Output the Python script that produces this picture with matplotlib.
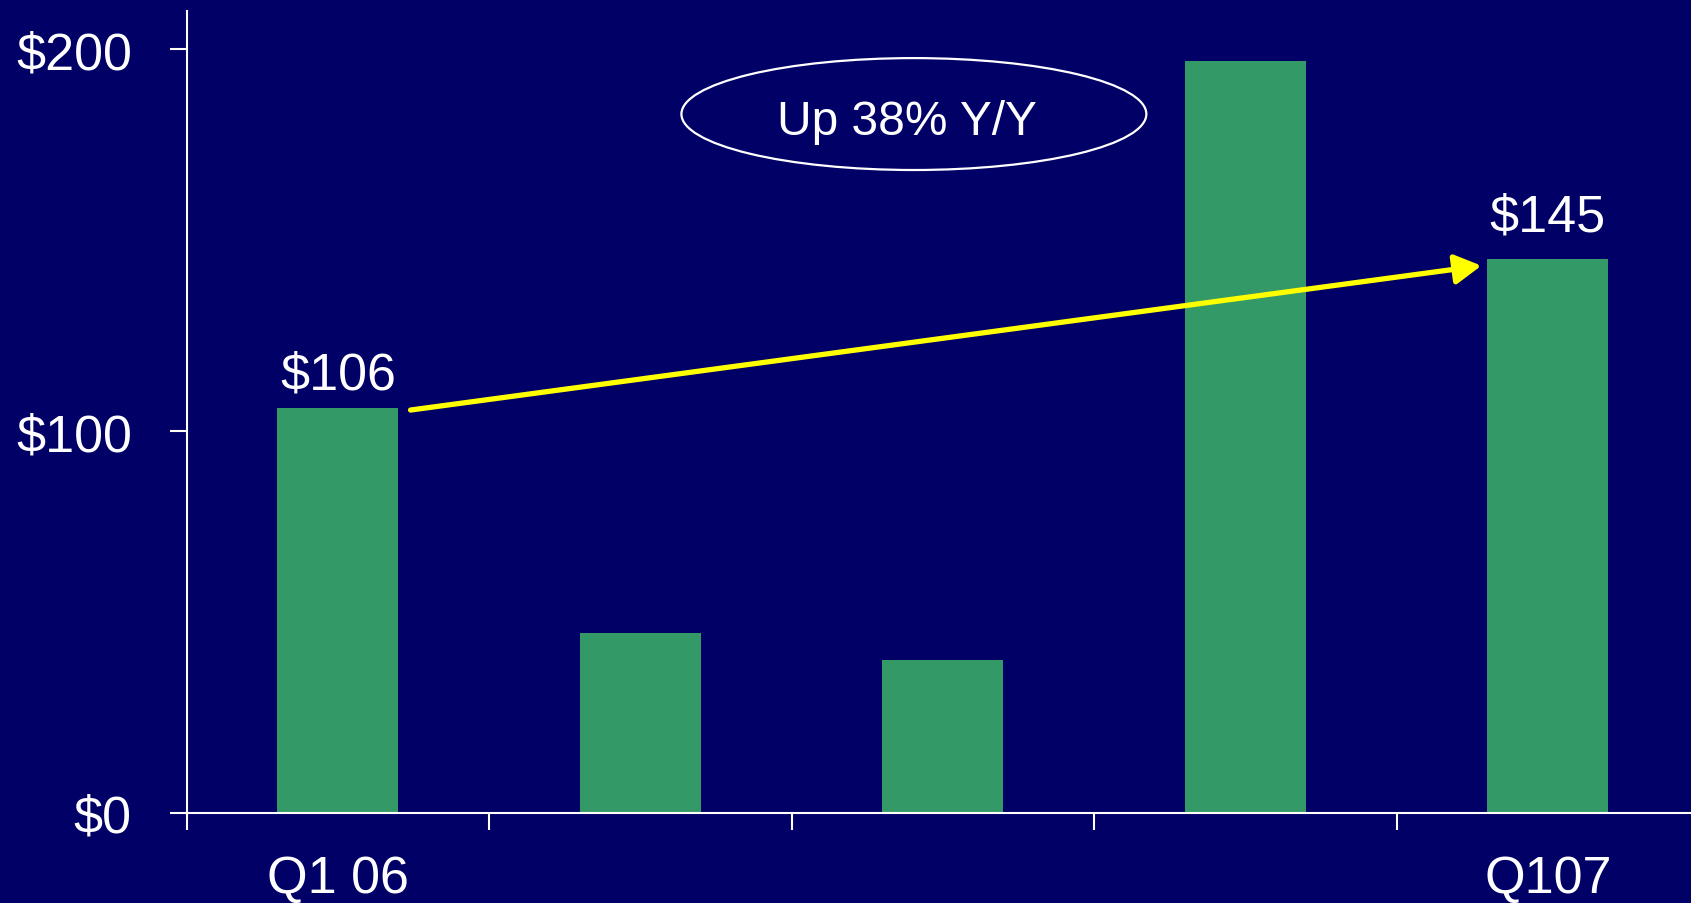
import matplotlib
matplotlib.use("Agg")
import matplotlib.pyplot as plt
from matplotlib.patches import Ellipse, FancyArrowPatch
from matplotlib.transforms import blended_transform_factory

# Data
quarters = ["Q1 06", "Q2 06", "Q3 06", "Q4 06", "Q107"]
values = [106, 47, 40, 197, 145]
shown_labels = {0: "Q1 06", 4: "Q107"}
value_labels = {0: "$106", 4: "$145"}
ytick_values = [0, 100, 200]
ytick_labels = ["$0", "$100", "$200"]
callout = "Up 38% Y/Y"

BG = "#000066"
BAR = "#339966"
WHITE = "white"
FONT = ["Liberation Sans", "DejaVu Sans"]
plt.rcParams["font.family"] = FONT
FS = 37.5

fig = plt.figure(figsize=(16.91, 9.04), dpi=100, facecolor=BG)
ax = fig.add_axes([0.1104, 0.0996, 0.8896, 0.8872], facecolor=BG)

x = list(range(len(values)))
ax.bar(x, values, width=0.40, color=BAR, zorder=2)

ax.set_xlim(-0.5, 4.473)
ax.set_ylim(0, 210)

for s in ["top", "right"]:
    ax.spines[s].set_visible(False)
for s in ["left", "bottom"]:
    ax.spines[s].set_color(WHITE)
    ax.spines[s].set_linewidth(1.5)

ax.set_xticks([i - 0.5 for i in x])
ax.set_xticklabels([])
ax.tick_params(axis="x", direction="out", length=12, width=1.5, color=WHITE)
ax.set_yticks(ytick_values)
ax.set_yticklabels(ytick_labels)
ax.tick_params(axis="y", direction="out", length=12, width=1.5, color=WHITE,
               labelcolor=WHITE, labelsize=FS, pad=27.5)

# Category labels under first and last bars
trans = blended_transform_factory(ax.transData, ax.transAxes)
for i, lab in shown_labels.items():
    ax.text(i, -0.0985, lab, transform=trans, ha="center", va="baseline",
            color=WHITE, fontsize=FS)

# Value labels
offsets = {0: 6, 4: 13}
for i, lab in value_labels.items():
    ax.annotate(lab, (i, values[i]), xytext=(0, offsets[i]), textcoords="offset points",
                ha="center", va="bottom", color=WHITE, fontsize=FS)

# Arrow from first to last bar
arrow = FancyArrowPatch((0 + 0.24, values[0] - 0.5), (4 - 0.22, values[4] - 1.7),
                        arrowstyle="-|>,head_length=0.8,head_width=0.45",
                        mutation_scale=20, color="#FFFF00", linewidth=3.8,
                        shrinkA=0, shrinkB=0, zorder=3)
ax.add_patch(arrow)

# Callout ellipse
ax.add_patch(Ellipse((1.904, 183), 1.537, 29.3, fill=False, edgecolor=WHITE,
                     linewidth=1.6, zorder=3))
ax.text(1.881, 181.0, callout, ha="center", va="center", color=WHITE, fontsize=34.5)

fig.savefig("out.png", dpi=100, facecolor=BG)
